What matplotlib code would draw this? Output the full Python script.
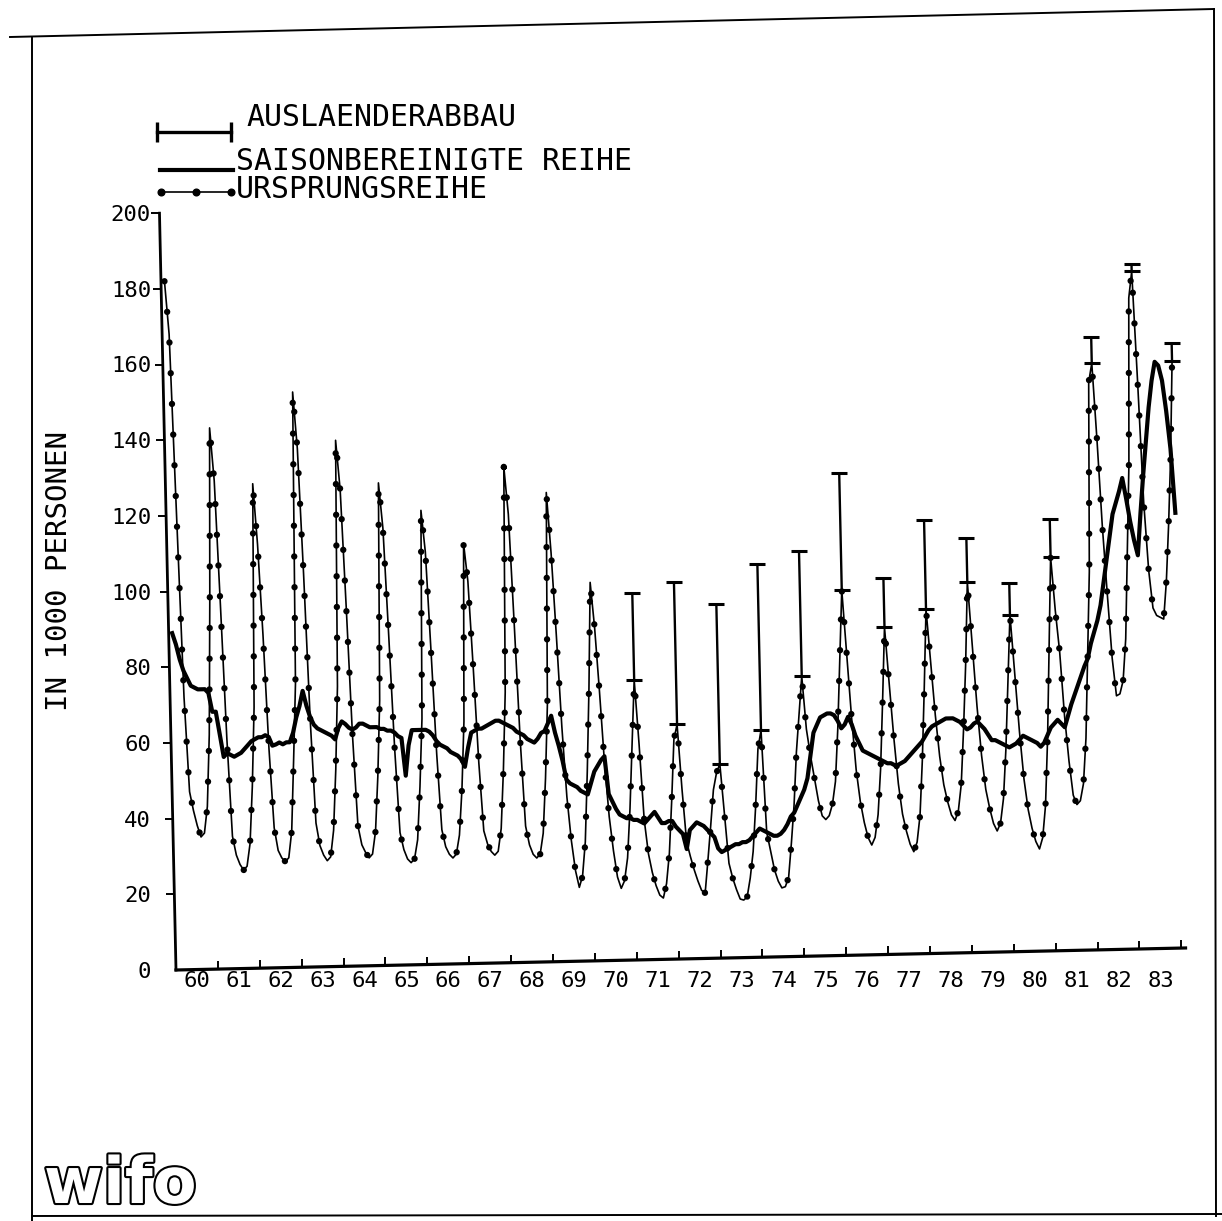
import numpy as np
import matplotlib
matplotlib.use("Agg")
import matplotlib.pyplot as plt
import matplotlib.patheffects as pe
from matplotlib.lines import Line2D
from matplotlib.transforms import Affine2D

# Arbeitslose in 1000 Personen, Monatswerte Jan 1960 - Jan 1984
ursprung = [
    182, 168, 120, 72, 47, 42, 38, 35, 36, 43, 62, 98,            # 1960
    143, 129, 96, 61, 35, 30, 27.5, 26, 27, 33, 48, 69,           # 1961
    128, 112, 88, 58, 37, 31, 29, 28, 29, 36, 55, 75,             # 1962
    152, 137, 104, 65, 38, 32, 29.5, 28, 29, 36, 52, 74,          # 1963
    139, 126, 95, 61, 37, 32, 30, 28.5, 29.5, 35.5, 50, 70,       # 1964
    127.5, 115.5, 87, 57, 35, 30.5, 28, 27, 28, 33, 47, 65,       # 1965
    120, 109, 83, 55.5, 35.5, 31, 29, 28, 29, 34, 46, 64,         # 1966
    111, 101, 78, 53, 35, 31.5, 29.5, 28.5, 29.5, 35.5, 51, 71.5, # 1967
    131, 118.5, 89.5, 58.5, 36, 31, 28.5, 27.5, 28.5, 34, 48.5, 68,  # 1968
    124, 108, 86, 62, 43.5, 32, 24, 19.5, 22.5, 31.5, 50, 72,     # 1969
    100, 88, 71, 52, 38, 29, 22, 19, 21, 27, 40, 57,              # 1970
    74, 57, 37, 28, 23, 19.5, 17, 16.2, 20, 28, 42, 58,           # 1971
    62, 45, 31, 27, 23.5, 20.5, 18, 17.3, 26, 35, 44.5, 49,       # 1972
    51.3, 38, 25, 21, 18, 15.5, 15.2, 16, 21, 28, 40, 55,         # 1973
    60, 33, 28, 23, 20, 18.2, 18.5, 21, 30, 40, 54, 64,           # 1974
    74, 60, 53, 47, 41, 37, 36, 37, 40, 46, 60, 78,               # 1975
    96.5, 80, 63, 49, 40.5, 35, 31, 29, 31, 37, 49, 67,           # 1976
    86.5, 71.5, 57, 45, 37, 32.5, 29, 27, 29.5, 36.5, 51, 70,     # 1977
    91, 77, 63, 52, 44.5, 40, 36.5, 35, 37.5, 44.5, 59, 76,       # 1978
    98, 81.5, 65, 52, 43, 38, 34, 32, 34, 40.5, 53.5, 71,         # 1979
    89, 73.5, 58, 45.5, 37.5, 32.5, 29, 27, 30, 38.5, 56, 80,     # 1980
    104, 90, 79, 62, 50, 41, 38.5, 39.5, 44, 56, 78, 100,         # 1981
    150, 155, 135, 112, 94, 77, 67, 67.5, 71, 82, 105, 128,       # 1982
    172, 179, 150, 118, 100, 90, 88, 87.5, 87, 97, 112, 130,      # 1983
    155,                                                         # 1984
]

saison = [
    89, 86, 82, 79, 77, 75, 74.5, 74, 74, 74, 73, 68,             # 1960
    68, 62, 56, 57, 56.5, 56, 56.5, 57, 58, 59, 60, 60.5,         # 1961
    61, 61, 61.5, 61, 58.7, 59, 59.5, 59, 59.5, 59.5, 62, 66,     # 1962
    69, 73, 69, 66, 64, 63, 62.5, 62, 61.5, 61, 60, 63,           # 1963
    64.7, 64, 63, 62.5, 63, 64, 64, 63.5, 63, 63, 63, 62.5,       # 1964
    62.5, 62, 62, 61.5, 60.5, 60, 50, 58, 62, 62, 62, 62,         # 1965
    62, 61.5, 60.5, 59, 58, 57.5, 57, 56, 55.5, 55, 54, 52,       # 1966
    57, 61, 61.5, 62, 62, 62.5, 63, 63.5, 64, 64, 63.5, 63,       # 1967
    62.5, 62, 61, 60.5, 60, 59, 58.5, 58, 59, 60.5, 61, 63,       # 1968
    65, 60.5, 57, 53, 48, 47, 46.5, 46, 45, 44.5, 44, 47,         # 1969
    50, 51.5, 53, 54, 44, 42, 40, 38.5, 38, 37.5, 37.5, 37,       # 1970
    37, 36.5, 36, 37, 38, 39, 37.5, 36, 36, 36.5, 36.5, 35,       # 1971
    34, 33, 29, 34, 35, 36, 35.5, 35, 34, 33, 32, 29,             # 1972
    28, 28.5, 29, 29.5, 30, 30, 30.5, 30.5, 31, 32, 33, 34,       # 1973
    33.5, 33, 32.5, 32, 32, 32.5, 33.5, 35, 37, 38, 40, 42,       # 1974
    44, 47, 53, 59, 61, 63, 63.5, 64, 64, 63.5, 62, 60,           # 1975
    61, 63, 61, 58, 56, 54, 53.5, 53, 52.5, 52, 51.5, 51,         # 1976
    50.5, 50.5, 50, 50, 50.5, 51, 52, 53, 54, 55, 56, 57.5,       # 1977
    59, 60, 60.5, 61, 61.5, 62, 62, 62, 61.5, 61, 60, 59,         # 1978
    59.5, 60.5, 61, 60, 59, 57.5, 56, 56, 55.5, 55, 54.5, 54,     # 1979
    54.5, 55, 56, 57, 56.5, 56, 55.5, 55, 54, 55, 57, 59,         # 1980
    60, 61, 60, 59, 62, 65, 67.5, 70, 72.5, 75, 77, 81,           # 1981
    84, 87, 91, 97, 103, 109, 115, 118, 121, 124.5, 119, 113,     # 1982
    108, 104, 115, 125, 134, 143, 150, 155, 154, 150, 142, 132,   # 1983
    115,                                                         # 1984
]

# Auslaenderabbau: Hoehe der Saisonspitze ohne Abbau
bar_years = list(range(1971, 1985))
bar_tops = [97, 99.5, 93.5, 104, 107, 127.5, 99.5, 114.5, 109.5, 97.5, 114, 162, 181, 160]

year_labels = [str(y)[2:] for y in range(1960, 1984)]
y_ticks = list(range(0, 201, 20))

W, H = 1222, 1221


def fx(px):
    return px / W


def fy(py):
    return 1 - py / H


plt.rcParams['font.family'] = ['DejaVu Sans Mono', 'DejaVu Sans']

fig = plt.figure(figsize=(W / 100, H / 100), dpi=100)
# Achsenursprung bei Pixel (176, 970), 41.9 px je Jahr, 757 px fuer 0..200
ax = fig.add_axes([fx(176), fy(970), 24.1 * 41.9 / W, 757 / H])
ax.set_xlim(1960, 1984.1)
ax.set_ylim(0, 200)

# die Vorlage ist leicht schraeg eingescannt: Zeichenflaeche um den Ursprung gedreht
rot = Affine2D().rotate_deg_around(176, H - 970, 1.25)
tr = ax.transData + rot

x = 1960 + (np.arange(len(ursprung)) + 1) / 12
urs = np.array(ursprung, dtype=float)
sai = np.array(saison, dtype=float)

# Ursprungsreihe: duenne Linie mit Punkten
ax.plot(x, urs, color='k', lw=1.2, zorder=2, clip_on=False, transform=tr)
ax.plot(x, urs, color='k', lw=4.6, ls=(0, (0.01, 4.8)), dash_capstyle='round',
        zorder=2, clip_on=False, transform=tr)
# saisonbereinigte Reihe
ax.plot(x[:len(sai)], sai, color='k', lw=3.0, zorder=3, solid_joinstyle='round',
        clip_on=False, transform=tr)

# Auslaenderabbau-Balken auf den Saisonspitzen
bar_x, bar_lo = [], []
for yr in bar_years:
    i0 = (yr - 1960) * 12
    k = i0 + int(np.argmax(urs[i0:i0 + 2]))
    bar_x.append(x[k])
    bar_lo.append(urs[k])
bar_lo = np.array(bar_lo)
eb = ax.errorbar(bar_x, bar_lo, yerr=[np.zeros(len(bar_lo)), np.array(bar_tops) - bar_lo],
                 fmt='none', ecolor='k', elinewidth=1.7, capsize=6, capthick=2.2,
                 zorder=4, clip_on=False)
for cap in eb.lines[1]:
    cap.set_transform(tr)
for col in eb.lines[2]:
    col.set_transform(tr)

# Achsen (mitgedreht), Beschriftung gerade
for s in ax.spines.values():
    s.set_visible(False)
ax.plot([1960, 1984.1], [0, 0], color='k', lw=2.3, clip_on=False, transform=tr)
ax.plot([1960, 1960], [0, 200], color='k', lw=2.0, clip_on=False, transform=tr)
ax.plot(range(1961, 1985), np.zeros(24), ls='none', marker=2, ms=6, mew=1.4, color='k',
        clip_on=False, transform=tr)
ax.plot(np.full(len(y_ticks) - 1, 1960.0), y_ticks[1:], ls='none', marker=0, ms=6,
        mew=1.4, color='k', clip_on=False, transform=tr)

ax.set_yticks(y_ticks)
ax.set_yticklabels([str(v) for v in y_ticks], fontsize=16)
ax.set_xticks([])
ax.set_xticks(np.arange(1960.5, 1984), minor=True)
ax.set_xticklabels(year_labels, minor=True, fontsize=16)
ax.tick_params(axis='both', which='both', length=0)
ax.tick_params(axis='y', pad=18)
ax.tick_params(axis='x', which='minor', pad=0.5)

ax.set_ylabel('IN 1000 PERSONEN', fontsize=21)
ax.yaxis.set_label_coords(-0.102, 0.527)

# Legende
fig.add_artist(Line2D([fx(157), fx(231)], [fy(132), fy(132)], color='k', lw=2.4,
                      marker='|', markersize=15, mew=2.4))
fig.text(fx(246), fy(117), 'AUSLAENDERABBAU', fontsize=21.5, ha='left', va='center')
fig.add_artist(Line2D([fx(160), fx(233)], [fy(170), fy(170)], color='k', lw=3.0))
fig.text(fx(236), fy(162), 'SAISONBEREINIGTE REIHE', fontsize=21.5, ha='left', va='center')
fig.add_artist(Line2D([fx(160), fx(233)], [fy(192), fy(192)], color='k', lw=1.2))
fig.add_artist(Line2D([fx(161), fx(196), fx(231)], [fy(192)] * 3, color='k', lw=0,
                      marker='o', markersize=4.8))
fig.text(fx(236), fy(190), 'URSPRUNGSREIHE', fontsize=21.5, ha='left', va='center')

# Rahmen der Vorlage
fig.add_artist(Line2D([fx(32), fx(32)], [fy(38), fy(1221)], color='k', lw=1.4))
fig.add_artist(Line2D([fx(10), fx(1214)], [fy(37), fy(9)], color='k', lw=1.4))
fig.add_artist(Line2D([fx(1214), fx(1216)], [fy(9), fy(1216)], color='k', lw=1.4))
fig.add_artist(Line2D([fx(32), fx(1222)], [fy(1216), fy(1214)], color='k', lw=1.4))

# Logo
fig.text(fx(44), fy(1203), 'wifo', fontsize=46, fontweight='bold', family='DejaVu Sans',
         color='white', ha='left', va='baseline',
         path_effects=[pe.withStroke(linewidth=3, foreground='black')])

fig.savefig('out.png', dpi=100, facecolor='white')
